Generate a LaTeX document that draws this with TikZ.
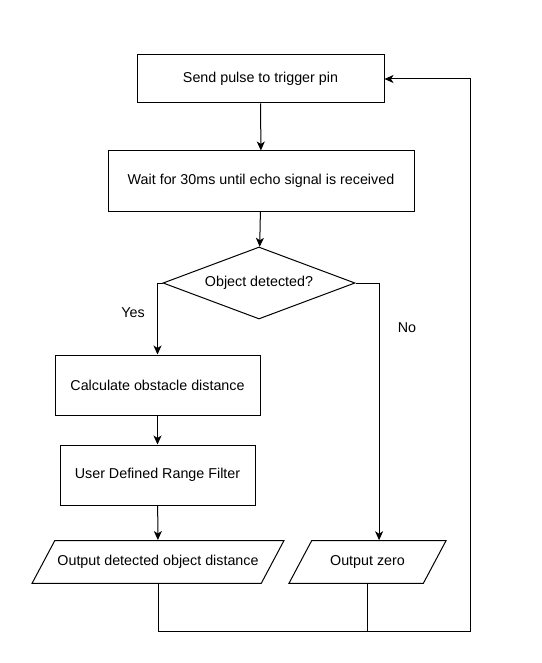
\documentclass[tikz,border=0pt]{standalone}
\usepackage{fontspec}
\setmainfont{Liberation Sans}
\usetikzlibrary{shapes.geometric,arrows.meta}
\begin{document}
\begin{tikzpicture}
            [x=1pt,y=-1pt,line width=1pt,
             font=\fontsize{14.3}{17}\selectfont,
             box/.style ={draw,rectangle,minimum width=#1,minimum height=60,inner sep=0},
             decision/.style ={draw,diamond,aspect=2.67,minimum width=192,minimum height=72,inner sep=0},
             io/.style ={draw,trapezium,trapezium left angle=62,trapezium right angle=118,
                         trapezium stretches body,minimum width=#1,inner xsep=0,inner ysep=14.8},
             flow/.style ={-{Stealth[length=9pt,width=8pt,inset=2.5pt]}}]
            \useasboundingbox (0,0) rectangle (541,663);
            \node[box=247,minimum height=48] (pulse) at (260.5,79) {Send pulse to trigger pin};
            \node[box=306] (wait) at (261,181) {Wait for 30ms until echo signal is received};
            \node[decision] (detect) at (259,283) {Object detected?};
            \node[box=205] (calc) at (157.5,385) {Calculate obstacle distance};
            \node[box=195] (filter) at (157.5,475) {User Defined Range Filter};
            \node[io=252] (outdist) at (158,562) {Output detected object distance};
            \node[io=157] (outzero) at (367.5,562) {Output zero};
            \node (yes) at (133,313) {Yes};
            \node (no) at (407,328) {No};
            \coordinate (back) at (470,631);
            \draw[flow] (pulse) to (wait);
            \draw[flow] (wait) to (detect);
            \draw[flow] (detect.west) -| (calc.north);
            \draw[flow] (detect.east) -| (outzero.top side);
            \draw[flow] (calc) to (filter);
            \draw[flow] (filter) to (outdist);
            \draw[flow] (outdist.south) |- (back) |- (pulse.east);
            \draw (outzero.south) to (outzero.south |- back);
        \end{tikzpicture}
\end{document}
